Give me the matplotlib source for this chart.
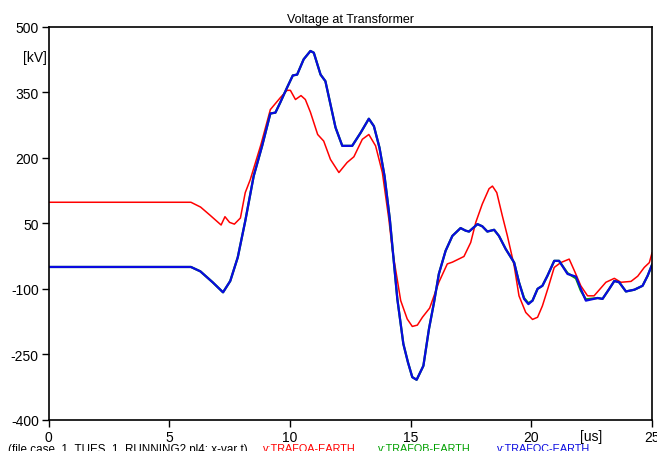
import matplotlib
matplotlib.use("Agg")
import matplotlib.pyplot as plt

plt.rcParams['font.family'] = ['Liberation Sans', 'DejaVu Sans']

# time [us] and voltages [kV]
t_a = [0, 5.9, 6.3, 6.7, 7.15, 7.31, 7.5, 7.7, 7.95, 8.15, 8.36, 8.8, 9.19, 9.6, 9.88,
       10.02, 10.23, 10.46, 10.64, 10.85, 11.15, 11.4, 11.68, 12.03, 12.37, 12.65, 13.0,
       13.27, 13.55, 13.83, 14.1, 14.24, 14.59, 14.86, 15.07, 15.28, 15.49, 15.79, 16.17,
       16.52, 16.73, 17.21, 17.49, 17.7, 17.97, 18.25, 18.39, 18.57, 18.8, 19.01, 19.29,
       19.49, 19.77, 20.05, 20.26, 20.46, 20.7, 20.95, 21.22, 21.57, 21.78, 22.05, 22.33,
       22.6, 23.09, 23.44, 23.71, 24.13, 24.41, 24.68, 24.89, 25.0]
v_a = [98, 98, 87, 68, 46, 65, 52, 48, 62, 120, 150, 230, 310, 337, 354,
       354, 333, 342, 333, 304, 253, 238, 196, 166, 189, 202, 242,
       253, 227, 166, 59, -9, -127, -169, -186, -183, -165, -144, -85,
       -43, -39, -26, 6, 52, 94, 129, 135, 120, 67, 21, -47,
       -116, -154, -170, -165, -139, -97, -51, -40, -32, -58, -93, -116,
       -116, -85, -76, -85, -83, -71, -51, -40, -18]

t_c = [0, 5.9, 6.29, 6.8, 7.23, 7.53, 7.84, 8.15, 8.5, 8.85, 9.19, 9.4, 9.6, 9.88, 10.12,
       10.3, 10.57, 10.85, 10.99, 11.27, 11.47, 11.68, 11.89, 12.17, 12.58, 12.93, 13.27,
       13.48, 13.71, 13.92, 14.14, 14.45, 14.7, 14.89, 15.07, 15.25, 15.53, 15.76, 15.97,
       16.17, 16.45, 16.73, 17.07, 17.28, 17.42, 17.77, 17.97, 18.18, 18.46, 18.66, 18.94,
       19.29, 19.49, 19.7, 19.88, 20.05, 20.26, 20.46, 20.67, 20.95, 21.15, 21.5, 21.85,
       22.05, 22.26, 22.75, 22.95, 23.23, 23.44, 23.64, 23.92, 24.27, 24.61, 24.82, 25.0]
v_c = [-50, -50, -60, -85, -108, -82, -28, 55, 158, 227, 301, 303, 326, 360, 388,
       390, 425, 444, 440, 390, 375, 322, 269, 227, 227, 257, 289,
       272, 223, 158, 59, -123, -226, -268, -302, -308, -276, -192, -131,
       -66, -13, 21, 39, 33, 31, 48, 43, 31, 35, 21, -9,
       -40, -85, -123, -135, -127, -100, -93, -70, -36, -36, -66, -72,
       -100, -127, -121, -123, -100, -82, -85, -106, -102, -93, -70, -45]
# phase B almost coincides with phase C
v_b = [-50, -50, -60, -85, -108, -82, -28, 55, 158, 227, 301, 303, 326, 360, 388,
       390, 425, 444, 440, 390, 375, 322, 269, 227, 227, 257, 289,
       272, 223, 158, 59, -123, -226, -268, -302, -308, -276, -192, -131,
       -66, -13, 21, 39, 33, 31, 48, 43, 31, 35, 21, -9,
       -40, -85, -121, -133, -127, -100, -93, -70, -36, -36, -64, -76,
       -104, -124, -121, -123, -100, -82, -85, -106, -102, -93, -70, -45]

x_ticks = [0, 5, 10, 15, 20, 25]
y_ticks = [500, 350, 200, 50, -100, -250, -400]

fig = plt.figure(figsize=(6.57, 4.52), dpi=100)
ax = fig.add_axes([48.5/657, 1-421/452, (652-48.5)/657, (421-27.5)/452])

ax.plot(t_a, v_a, color='#ff0000', lw=1.1)
ax.plot(t_c, v_b, color='#00a000', lw=1.6)
ax.plot(t_c, v_c, color='#0a0ae0', lw=1.6)

ax.set_xlim(0, 25)
ax.set_ylim(-400, 500)
ax.set_xticks(x_ticks)
ax.set_xticklabels([str(x) for x in x_ticks])
ax.set_yticks(y_ticks)
ax.set_yticklabels([str(y) for y in y_ticks])
ax.tick_params(labelsize=10, length=5, width=1, pad=2)
for s in ax.spines.values():
    s.set_linewidth(1.2)

ax.set_title("Voltage at Transformer", fontsize=9, pad=3)

fig.text(46.5/657, 1-58/452, "[kV]", ha='right', va='center', fontsize=10)
fig.text(591/657, 1-437/452, "[us]", ha='center', va='center', fontsize=10)

# legend line along the bottom (partly cut off like the original)
y_leg = 1 - 444.5/452
fig.text(8/657, y_leg, "(file case_1_TUES_1_RUNNING2.pl4; x-var t)", color='black', fontsize=8.4, va='top')
fig.text(263/657, y_leg, "v:TRAFOA-EARTH", color='#ff0000', fontsize=7.8, va='top')
fig.text(378/657, y_leg, "v:TRAFOB-EARTH", color='#00a000', fontsize=7.8, va='top')
fig.text(497/657, y_leg, "v:TRAFOC-EARTH", color='#0a0ae0', fontsize=7.8, va='top')

fig.savefig("out.png", dpi=100)
